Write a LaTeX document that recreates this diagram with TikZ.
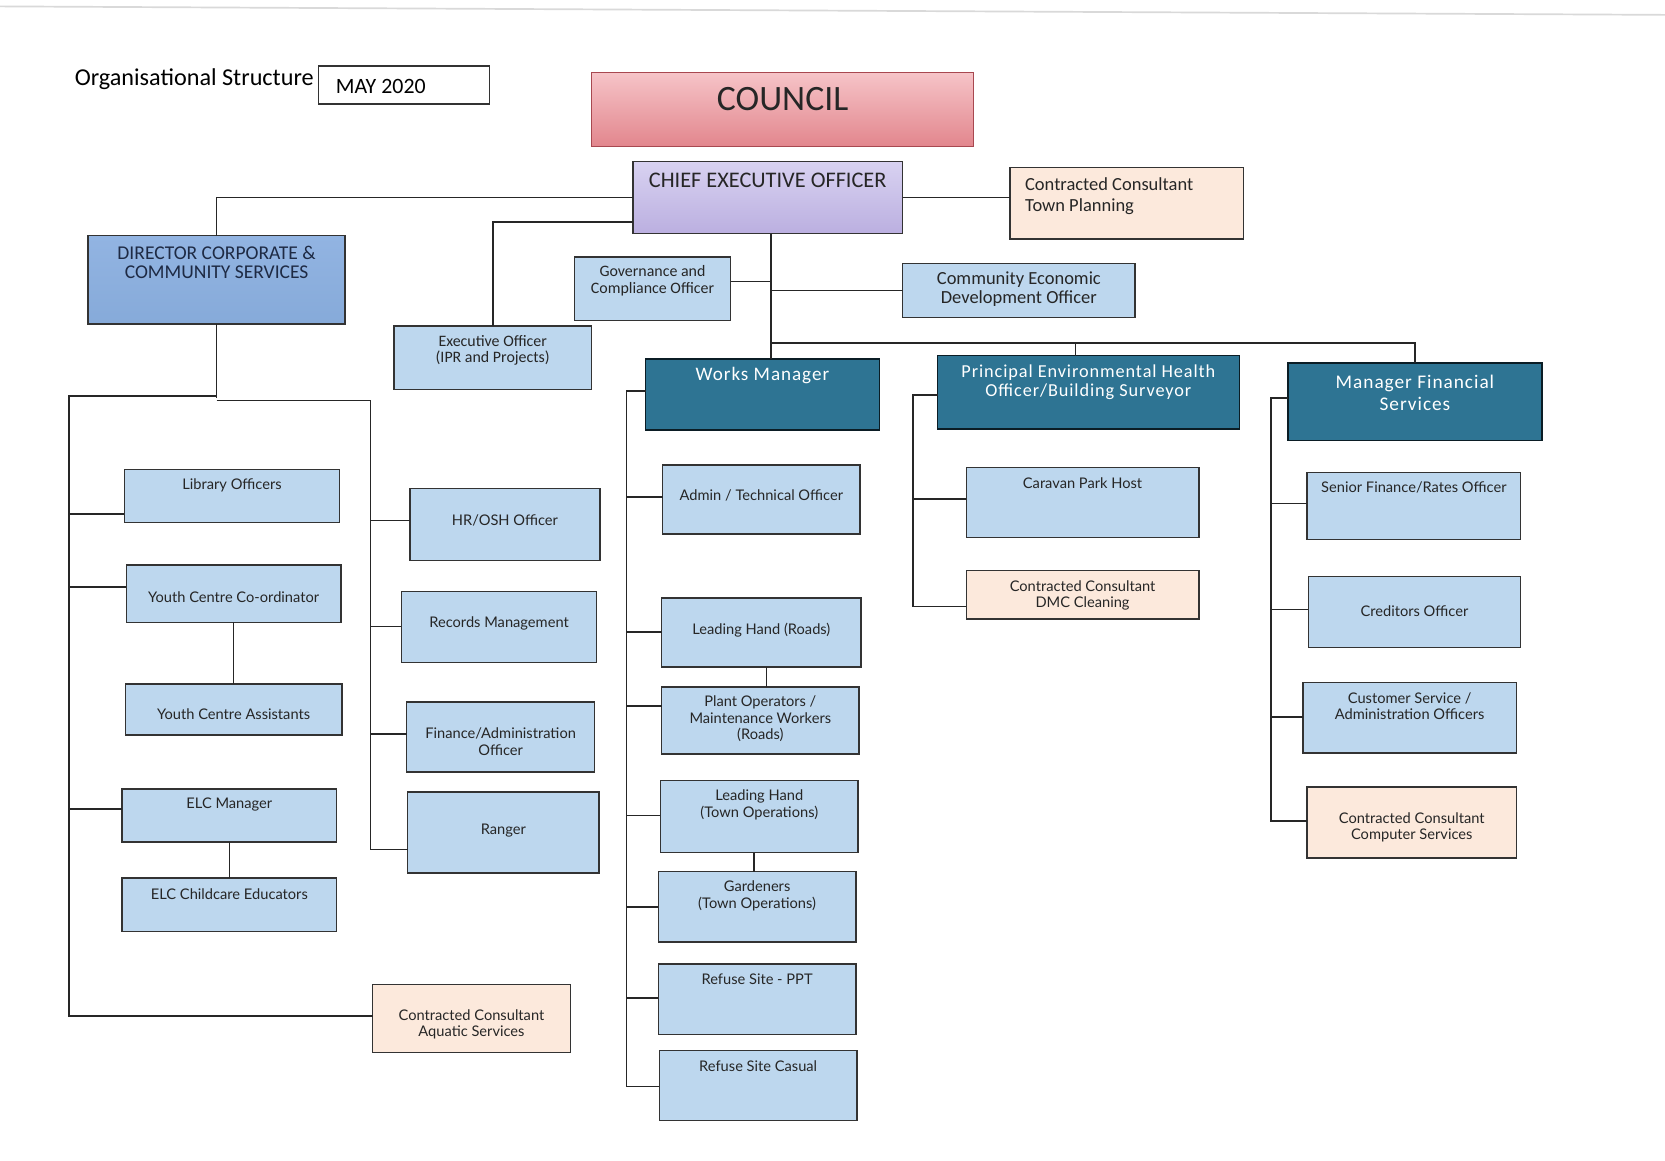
\documentclass[tikz,border=0pt]{standalone}
\usepackage{fontspec}
\setmainfont{Lato}
\newfontfamily\carlito{Carlito}
\newfontfamily\carlitols{Carlito}[LetterSpace=5]
\usetikzlibrary{fit}
\definecolor{lightblue}{HTML}{BDD7EE}
\definecolor{peach}{HTML}{FCE9DC}
\definecolor{tealbox}{HTML}{2E7493}
\definecolor{inkgray}{HTML}{262626}
\definecolor{pinktop}{HTML}{F6C4C8}
\definecolor{pinkbot}{HTML}{E2868D}
\definecolor{pinkedge}{HTML}{A84850}
\definecolor{lavtop}{HTML}{D8D2F1}
\definecolor{lavbot}{HTML}{BBAFE0}
\definecolor{dirtop}{HTML}{92B4E2}
\definecolor{dirbot}{HTML}{86AAD9}
\definecolor{navytext}{HTML}{1E2A44}
\newcommand\orgbox[7]{%
  \node[#2, fit={(#4) (#5)}] (#1) {};
  \node[#3] (#1t) at (#1.north |- 0,#6) {#7};}
\begin{document}
\begin{tikzpicture}[x=0.5pt,y=-0.5pt,
  lnk/.style={draw=inkgray, line width=0.75pt},
  bx/.style={draw=black!80, line width=0.65pt, inner sep=0pt, outer sep=0pt},
  lb/.style={bx, fill=lightblue},
  pc/.style={bx, fill=peach},
  tl/.style={bx, fill=tealbox, draw=black!75!tealbox},
  tx/.style={font=\fontsize{6.9}{7.7}\selectfont, text=inkgray, align=center, inner sep=0pt},
  txc/.style={font=\carlito\fontsize{7.5}{7.8}\selectfont, text=inkgray, align=center, inner sep=0pt},
  txm/.style={font=\carlito\fontsize{8.7}{9}\selectfont, text=inkgray, align=center, inner sep=0pt},
  txw/.style={font=\carlitols\fontsize{9}{9.3}\selectfont, text=white, align=center, inner sep=0pt},
  txd/.style={font=\carlito\fontsize{9.2}{9}\selectfont, text=navytext, align=center, inner sep=0pt},
]
\useasboundingbox (0,0) rectangle (1568,1093);
\fill[white] (0,0) rectangle (1568,1093);
\draw[gray!30, line width=0.8pt] (0,6) -- (1568,14);

% title
\node[anchor=west, inner sep=0pt, font=\carlito\fontsize{11.4}{12}\selectfont] (title) at (70,75) {Organisational Structure};
\node[bx, fit={(300,62) (461,98)}] (may) {};
\node[anchor=west, inner sep=0pt, font=\carlito\fontsize{10.3}{12}\selectfont] (mayt) at (316,81) {MAY 2020};

% top level
\orgbox{council}{bx, top color=pinktop, bottom color=pinkbot, draw=pinkedge}{font=\carlito\fontsize{16.8}{18}\selectfont, text=black!85, inner sep=0pt}{557,68}{917,138}{93}{COUNCIL}
\orgbox{ceo}{bx, top color=lavtop, bottom color=lavbot}{font=\carlito\fontsize{10.5}{12}\selectfont, text=black!85, inner sep=0pt}{596,152}{850,220}{170}{CHIEF EXECUTIVE OFFICER}
\node[pc, fit={(951,158) (1171,225)}] (ctp) {};
\node[txm, align=left, anchor=west, font=\carlito\fontsize{8.7}{10}\selectfont] (ctpt) at (965,185) {Contracted Consultant\\Town Planning};
\orgbox{dir}{bx, top color=dirtop, bottom color=dirbot}{txd}{83,222}{325,305}{247}{DIRECTOR CORPORATE \&\\COMMUNITY SERVICES}
\orgbox{exo}{lb}{txc}{371,307}{557,367}{330}{Executive Officer\\(IPR and Projects)}
\orgbox{gov}{lb}{txc}{541,242}{688,302}{264.5}{Governance and\\Compliance Officer}
\orgbox{ced}{lb}{txm}{850,248}{1069,299}{272}{Community Economic\\Development Officer}
\orgbox{wm}{tl}{txw}{608,338}{828,405}{354}{Works Manager}
\orgbox{peho}{tl}{txw, font=\carlitols\fontsize{8.6}{9}\selectfont}{883,335}{1167,404}{360}{Principal Environmental Health\\Officer/Building Surveyor}
\orgbox{mfs}{tl}{txw, font=\carlitols\fontsize{9.1}{10}\selectfont}{1213,342}{1452,415}{370}{Manager Financial\\Services}

% director corporate subtree
\orgbox{lib}{lb}{tx}{117,442}{320,492}{457}{Library Officers}
\orgbox{ycc}{lb}{tx}{119,532}{321,586}{562}{Youth Centre Co-ordinator}
\orgbox{yca}{lb}{tx}{118,644}{322,692}{673}{Youth Centre Assistants}
\orgbox{elcm}{lb}{tx}{115,743}{317,793}{758}{ELC Manager}
\orgbox{elcc}{lb}{tx}{115,827}{317,877}{842}{ELC Childcare Educators}
\orgbox{aqua}{pc}{tx}{351,927}{537,991}{964.5}{Contracted Consultant\\Aquatic Services}
\orgbox{hr}{lb}{tx}{386,460}{565,528}{490}{HR/OSH Officer}
\orgbox{rec}{lb}{tx}{378,557}{562,624}{587}{Records Management}
\orgbox{fin}{lb}{tx}{383,661}{560,727}{698.5}{Finance/Administration\\Officer}
\orgbox{rng}{lb}{tx}{384,746}{564,822}{782}{Ranger}

% works subtree
\orgbox{adm}{lb}{tx}{624,438}{810,503}{467}{Admin / Technical Officer}
\orgbox{lhr}{lb}{tx}{623,563}{811,628}{593}{Leading Hand (Roads)}
\orgbox{plant}{lb}{tx}{623,647}{809,710}{677}{Plant Operators /\\Maintenance Workers\\(Roads)}
\orgbox{lht}{lb}{tx}{622,735}{808,803}{758}{Leading Hand\\(Town Operations)}
\orgbox{gard}{lb}{tx}{620,821}{806,887}{843.5}{Gardeners\\(Town Operations)}
\orgbox{ppt}{lb}{tx}{620,908}{806,974}{922}{Refuse Site - PPT}
\orgbox{rsc}{lb}{tx}{621,989}{807,1055}{1004}{Refuse Site Casual}

% PEHO subtree
\orgbox{cph}{lb}{tx}{910,440}{1129,506}{455}{Caravan Park Host}
\orgbox{dmc}{pc}{tx}{910,537}{1129,583}{561}{Contracted Consultant\\DMC Cleaning}

% finance subtree
\orgbox{sfr}{lb}{tx}{1231,445}{1432,508}{459}{Senior Finance/Rates Officer}
\orgbox{cred}{lb}{tx}{1232,543}{1432,610}{576}{Creditors Officer}
\orgbox{cs}{lb}{tx}{1227,643}{1428,709}{665}{Customer Service /\\Administration Officers}
\orgbox{ccs}{pc}{tx}{1231,741}{1428,808}{779}{Contracted Consultant\\Computer Services}

% ---- connectors ----
\draw[lnk] (ceo.east |- 0,186) -- (ctp.west |- 0,186);
\draw[lnk] (ceo.west |- 0,186) -| (dir.north);
\draw[lnk] (ceo.west |- 0,209) -| (exo.north);
\coordinate (trk) at (726,0);
\draw[lnk] (ceo.south -| trk) -- (wm.north -| trk);
\draw[lnk] (gov.east |- 0,265) -- (trk |- 0,265);
\draw[lnk] (trk |- ced.west) -- (ced.west);
\draw[lnk] (trk |- 0,323) -| (mfs.north);
\draw[lnk] (1013,323) -- (peho.north -| 1013,0);

% director subtree
\draw[lnk] (dir.south) -- (dir.south |- 0,375);
\draw[lnk] (dir.south |- 0,373) -- (65,373) -- (65,957) -- (aqua.west |- 0,957);
\draw[lnk] (dir.south |- 0,377) -- (349,377) -- (349,800) -- (rng.west |- 0,800);
\draw[lnk] (65,484) -- (lib.west |- 0,484);
\draw[lnk] (65,553) -- (ycc.west |- 0,553);
\draw[lnk] (65,762) -- (elcm.west |- 0,762);
\draw[lnk] (ycc.south) -- (yca.north);
\draw[lnk] (elcm.south) -- (elcc.north);
\draw[lnk] (349,490) -- (hr.west |- 0,490);
\draw[lnk] (349,590) -- (rec.west |- 0,590);
\draw[lnk] (349,691) -- (fin.west |- 0,691);

% works subtree
\draw[lnk] (wm.west |- 0,368) -- (590,368) -- (590,1023) -- (rsc.west |- 0,1023);
\draw[lnk] (590,468) -- (adm.west |- 0,468);
\draw[lnk] (590,595) -- (lhr.west |- 0,595);
\draw[lnk] (590,665) -- (plant.west |- 0,665);
\draw[lnk] (590,768) -- (lht.west |- 0,768);
\draw[lnk] (590,854) -- (gard.west |- 0,854);
\draw[lnk] (590,940) -- (ppt.west |- 0,940);
\draw[lnk] (lhr.south -| 722,0) -- (plant.north -| 722,0);
\draw[lnk] (lht.south -| 710,0) -- (gard.north -| 710,0);

% PEHO subtree
\draw[lnk] (peho.west |- 0,372) -- (860,372) -- (860,571) -- (dmc.west |- 0,571);
\draw[lnk] (860,470) -- (cph.west |- 0,470);

% finance subtree
\draw[lnk] (mfs.west |- 0,375) -- (1197,375) -- (1197,773) -- (ccs.west |- 0,773);
\draw[lnk] (1197,474) -- (sfr.west |- 0,474);
\draw[lnk] (1197,574) -- (cred.west |- 0,574);
\draw[lnk] (1197,675) -- (cs.west |- 0,675);
\end{tikzpicture}
\end{document}
